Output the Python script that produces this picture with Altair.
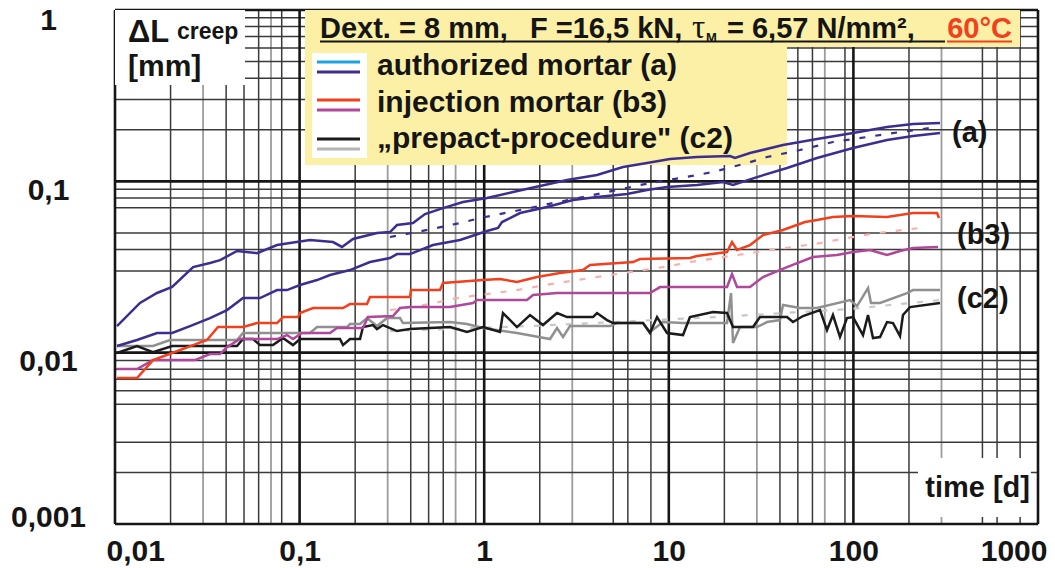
import altair as alt
import pandas as pd

# ---------------- data: time [d] vs. creep displacement ΔL [mm] ----------------
# (a) authorized mortar – upper and lower test curve, dashed mean
a1_t = [0.01025, 0.01366, 0.01689, 0.0204, 0.0265, 0.0327, 0.0371, 0.0458, 0.0588, 0.0755,
        0.0887, 0.1138, 0.1517, 0.1697, 0.1947, 0.2626, 0.3088, 0.337, 0.4115, 0.478,
        0.598, 0.768, 1.036, 1.432, 2.006, 2.809, 4.084, 5.648, 7.618, 10.15,
        14.22, 21.46, 22.84, 27.54, 41.55, 63.5, 99.5, 152.1, 210.3, 294.5]
a1_v = [0.0143, 0.0195, 0.0223, 0.0242, 0.0316, 0.0334, 0.0347, 0.0392, 0.0381, 0.0425,
        0.0436, 0.0454, 0.0442, 0.0414, 0.0461, 0.0499, 0.0506, 0.0556, 0.0571, 0.0644,
        0.0698, 0.0757, 0.0799, 0.0866, 0.0939, 0.1018, 0.1088, 0.1212, 0.1279, 0.1350,
        0.1386, 0.1405, 0.1368, 0.1463, 0.1628, 0.1765, 0.1914, 0.2075, 0.2161, 0.2190]

a2_t = [0.01025, 0.01316, 0.01689, 0.0204, 0.02549, 0.0327, 0.04045, 0.04936, 0.06103, 0.0755,
        0.08545, 0.1005, 0.1243, 0.1461, 0.1875, 0.2406, 0.3088, 0.337, 0.3963, 0.528,
        0.7393, 1.036, 1.188, 1.249, 1.563, 2.189, 3.027, 4.084, 5.936, 7.618,
        9.78, 14.22, 19.66, 22.28, 30.05, 43.68, 63.5, 99.5, 152.1, 210.3, 294.5]
a2_v = [0.01093, 0.01185, 0.01302, 0.01302, 0.0143, 0.01592, 0.01773, 0.02083, 0.02083, 0.02319,
        0.02319, 0.02481, 0.02653, 0.02838, 0.03035, 0.0338, 0.03566, 0.03763, 0.03763, 0.04247,
        0.04544, 0.05127, 0.05339, 0.05786, 0.0653, 0.07079, 0.07775, 0.08097, 0.08431, 0.08896,
        0.09262, 0.09515, 0.09906, 0.09515, 0.1059, 0.1196, 0.1368, 0.1564, 0.1742, 0.1838, 0.1914]

am_t = [0.3088, 0.4325, 0.7393, 0.9491, 1.563, 2.359, 3.886, 6.982, 11.50, 17.35,
        26.52, 34.04, 51.38, 77.5, 118.5, 178.8, 260.0]
am_v = [0.04731, 0.05058, 0.0571, 0.06106, 0.068, 0.07467, 0.08318, 0.09515, 0.1045, 0.1133,
        0.1279, 0.1386, 0.1523, 0.1696, 0.1814, 0.194, 0.2047]

# (b3) injection mortar – red, magenta, dashed mean
b1_t = [0.01025, 0.01316, 0.01607, 0.0204, 0.0265, 0.0315, 0.03614, 0.04936, 0.0588, 0.0755,
        0.08131, 0.09802, 0.1005, 0.1182, 0.1718, 0.1875, 0.2318, 0.2406, 0.3963, 0.4013,
        0.5762, 0.598, 0.985, 1.218, 1.505, 1.932, 2.574, 3.429, 3.742, 6.4,
        6.982, 13.02, 14.22, 20.67, 22.0, 23.42, 27.54, 32.38, 41.55, 54.68,
        63.5, 77.5, 99.5, 152.1, 210.3, 283.8, 290.9]
b1_v = [0.00711, 0.00711, 0.00905, 0.00995, 0.01107, 0.01185, 0.01411, 0.01411, 0.01489, 0.01489,
        0.01614, 0.01614, 0.01703, 0.01821, 0.01821, 0.01922, 0.01922, 0.02112, 0.02112, 0.02319,
        0.02319, 0.02549, 0.02653, 0.0269, 0.02583, 0.02762, 0.02915, 0.03035, 0.03246, 0.0338,
        0.03518, 0.03566, 0.03664, 0.03867, 0.04423, 0.03972, 0.04247, 0.04858, 0.05196, 0.05786,
        0.05941, 0.06187, 0.06271, 0.06187, 0.0653, 0.0653, 0.06106]

b2_t = [0.01025, 0.01316, 0.01607, 0.02713, 0.0327, 0.0371, 0.04045, 0.04755, 0.0755, 0.08545,
        0.0921, 0.1030, 0.1461, 0.1594, 0.2205, 0.2347, 0.3206, 0.3499, 0.3963, 0.6527,
        0.8699, 0.9141, 1.706, 1.839, 2.480, 7.911, 8.963, 20.67, 22.0, 23.42,
        27.54, 32.38, 43.68, 60.40, 81.5, 99.5, 123.0, 152.1, 178.8, 210.3, 287.3]
b2_v = [0.00802, 0.00802, 0.00905, 0.00905, 0.00981, 0.00981, 0.01078, 0.01201, 0.01201, 0.01267,
        0.01201, 0.01302, 0.01302, 0.01392, 0.01392, 0.01614, 0.01636, 0.01821, 0.01846, 0.01846,
        0.01949, 0.02028, 0.02028, 0.02169, 0.02228, 0.02228, 0.02415, 0.02415, 0.02876, 0.02415,
        0.02415, 0.02762, 0.0316, 0.03615, 0.03713, 0.03867, 0.03972, 0.03713, 0.03918, 0.04079, 0.04135]

bm_t = [0.3088, 0.4489, 0.7123, 1.505, 2.480, 4.803, 10.15, 13.02, 23.42, 30.05,
        47.07, 65.94, 92.3, 134.2, 185.6, 250.4]
bm_v = [0.01773, 0.01871, 0.02083, 0.02319, 0.02549, 0.02838, 0.03202, 0.0338, 0.03713, 0.03867,
        0.04135, 0.04363, 0.04667, 0.04991, 0.05196, 0.0541]

# (c2) "prepact-procedure" – grey, black, dashed mean
c1_t = [0.01025, 0.01607, 0.01986, 0.0458, 0.04936, 0.1138, 0.1243, 0.1806, 0.1875, 0.2125,
        0.2318, 0.2626, 0.2975, 0.3499, 0.3632, 0.6527, 0.807, 0.985, 1.505, 2.273,
        2.48, 2.673, 2.916, 4.803, 5.241, 7.247, 7.911, 9.303, 11.94, 20.67,
        21.73, 22.28, 24.3, 30.05, 34.04, 40.03, 41.55, 51.38, 63.5, 95.9,
        104.6, 120.0, 124.5, 139.4, 195.2, 210.3, 294.5]
c1_v = [0.01093, 0.01093, 0.01185, 0.01185, 0.01302, 0.01302, 0.01411, 0.01411, 0.01469, 0.01469,
        0.01592, 0.0143, 0.01592, 0.01592, 0.01489, 0.01509, 0.01469, 0.01392, 0.01302, 0.01201,
        0.01392, 0.01234, 0.0143, 0.0143, 0.01489, 0.01489, 0.0132, 0.01509, 0.01489, 0.01489,
        0.02228, 0.01138, 0.01411, 0.01411, 0.01509, 0.0155, 0.01896, 0.01821, 0.01821, 0.02028,
        0.01871, 0.02383, 0.01949, 0.01949, 0.02228, 0.02319, 0.02319]

c2_t = [0.01025, 0.01316, 0.01607, 0.0204, 0.0458, 0.04936, 0.05592, 0.06103, 0.07176, 0.08131,
        0.0921, 0.1005, 0.1655, 0.1718, 0.1875, 0.2125, 0.2205, 0.2498, 0.2626, 0.283,
        0.337, 0.3963, 0.6527, 0.807, 0.985, 1.218, 1.264, 1.505, 1.771, 2.082,
        2.48, 2.809, 3.886, 4.084, 4.627, 4.985, 7.247, 7.911, 8.635, 9.779,
        11.94, 13.02, 17.35, 20.67, 22.28, 28.58, 31.19, 43.68, 47.07, 53.33,
        65.94, 71.94, 77.5, 84.6, 92.3, 99.5, 112.7, 120.0, 127.7, 139.4,
        152.1, 163.9, 178.8, 185.6, 202.6, 294.5]
c2_v = [0.00995, 0.01093, 0.01008, 0.01093, 0.01093, 0.01201, 0.01201, 0.01107, 0.01107, 0.01217,
        0.01107, 0.01201, 0.01201, 0.01107, 0.01201, 0.01201, 0.01411, 0.01449, 0.01373, 0.01449,
        0.01337, 0.01373, 0.01411, 0.0132, 0.01411, 0.0132, 0.01703, 0.01411, 0.01658, 0.01449,
        0.01703, 0.01614, 0.01614, 0.01703, 0.0155, 0.01489, 0.01489, 0.01302, 0.01614, 0.01302,
        0.01267, 0.01614, 0.01726, 0.01703, 0.01411, 0.01411, 0.01614, 0.01614, 0.01509, 0.01636,
        0.01773, 0.01355, 0.01658, 0.01234, 0.01592, 0.01614, 0.01267, 0.01658, 0.01217, 0.01234,
        0.01509, 0.01489, 0.0125, 0.01658, 0.01846, 0.01949]

cm_t = [0.3088, 1.771, 18.25, 95.9, 294.5]
cm_v = [0.01337, 0.0143, 0.01614, 0.01797, 0.02028]

# axis ticks / grid
x_ticks = [0.01, 0.1, 1, 10, 100, 1000]
y_ticks = [0.001, 0.01, 0.1, 1]
x_decades = [0.01, 0.1, 1, 10, 100]
x_missing = [[9], [8], [4, 7, 9], [8], [4, 7, 9]]
x_light = [3, 7]
y_decades = [0.001, 0.01, 0.1]
y_missing = [[4], [2, 6], []]

# ---------------- styling ----------------
FONT = "Liberation Sans"
INK = "#151515"
BLUE = "#3c2e91"
LBLUE = "#1ea3e0"
RED = "#f2401f"
MAG = "#b1479b"
BLACK = "#1b1b1b"
GRAY = "#909090"
PINK = "#f5b0b0"
LGRAY = "#c8c8c8"
YELLOW = "#fcf0a6"

W, H = 923, 514
xscale = alt.Scale(type="log", domain=[0.01, 1000], nice=False)
yscale = alt.Scale(type="log", domain=[0.001, 1], nice=False)
LBL = "replace(format(datum.value, '~g'), '.', ',')"

XAX = alt.Axis(values=x_ticks, labelExpr=LBL, grid=False, ticks=False, tickSize=0, domain=False,
               title=None, labelFlush=True, labelFlushOffset=9, labelPadding=12,
               labelFont=FONT, labelFontSize=30, labelFontWeight="bold", labelColor=INK)
YAX = alt.Axis(values=y_ticks, labelExpr=LBL, grid=False, ticks=False, tickSize=0, domain=False,
               title=None, labelAlign="center", labelBaseline="middle", labelPadding=67,
               labelOffset={"condition": [{"test": "datum.value < 0.005", "value": -7},
                                          {"test": "datum.value > 0.5", "value": 10}],
                            "value": 9},
               labelFont=FONT, labelFontSize=30, labelFontWeight="bold", labelColor=INK)


def X(f):
    return alt.X(f, type="quantitative", scale=xscale, axis=XAX)


def Y(f):
    return alt.Y(f, type="quantitative", scale=yscale, axis=YAX)


def vrules(vals, color, width):
    return alt.Chart(pd.DataFrame({"g": vals})).mark_rule(color=color, strokeWidth=width).encode(x=X("g"))


def hrules(vals, color, width):
    return alt.Chart(pd.DataFrame({"g": vals})).mark_rule(color=color, strokeWidth=width).encode(y=Y("g"))


xm_dark, xm_light = [], []
for d, miss in zip(x_decades, x_missing):
    for m in range(2, 10):
        if m in miss:
            continue
        (xm_light if m in x_light else xm_dark).append(round(d * m, 6))
ym = []
for d, miss in zip(y_decades, y_missing):
    for m in range(2, 10):
        if m not in miss:
            ym.append(round(d * m, 6))

grid = [
    vrules(xm_light, "#9c9c9c", 1.8),
    vrules(xm_dark, "#3a3a3a", 1.5),
    hrules(ym, "#3a3a3a", 1.5),
    vrules(x_ticks, "#161616", 2.6),
    hrules(y_ticks, "#161616", 2.6),
]

ONE = pd.DataFrame({"k": [0]})


def rect(x0, x1, y0, y1, color):
    return alt.Chart(ONE).mark_rect(color=color).encode(
        x=alt.value(x0), x2=alt.value(x1), y=alt.value(y0), y2=alt.value(y1))


def hline(x0, x1, y, color, width):
    return alt.Chart(ONE).mark_rule(color=color, strokeWidth=width).encode(
        x=alt.value(x0), x2=alt.value(x1), y=alt.value(y))


def txt(s, x, y, size, color=INK, align="left", weight="bold", font=FONT):
    return alt.Chart(ONE).mark_text(text=s, fontSize=size, font=font, fontWeight=weight,
                                    color=color, align=align, baseline="alphabetic").encode(
        x=alt.value(x), y=alt.value(y))


boxes = [
    rect(0, 130, 0, 75, "white"),
    rect(190, 905, 0, 37, YELLOW),
    rect(190, 672, 37, 155, YELLOW),
    rect(197, 252, 43, 148, "white"),
    rect(803, 916, 448, 507, "white"),
]


def line(t, v, color, width=2.5, dash=None):
    kw = dict(color=color, strokeWidth=width)
    if dash:
        kw["strokeDash"] = dash
    return alt.Chart(pd.DataFrame({"t": t, "v": v})).mark_line(**kw).encode(x=X("t"), y=Y("v"))


curves = [
    line(cm_t, cm_v, LGRAY, 2.2, [6, 10]),
    line(bm_t, bm_v, PINK, 2.2, [6, 10]),
    line(am_t, am_v, BLUE, 2.2, [6, 10]),
    line(c1_t, c1_v, GRAY),
    line(c2_t, c2_v, BLACK),
    line(b2_t, b2_v, MAG),
    line(b1_t, b1_v, RED),
    line(a2_t, a2_v, BLUE),
    line(a1_t, a1_v, BLUE),
]

labels = [
    # axis caption top-left
    txt("ΔL", 13, 32, 31),
    txt("creep", 62, 29, 23),
    txt("[mm]", 13, 66, 30),
    # header line
    txt("Dext. = 8 mm,", 205, 28, 29),
    txt("F =16,5 kN,", 415, 28, 29),
    txt("τ", 577, 28, 33, weight="normal", font="Liberation Serif"),
    txt("M", 591, 32, 13),
    txt("= 6,57 N/mm²,", 612, 28, 29),
    txt("60°C", 897, 28, 29, color=RED, align="right"),
    hline(205, 830, 31.5, INK, 2),
    hline(832, 897, 31.5, RED, 2),
    # legend
    hline(202, 245, 52, LBLUE, 3),
    hline(202, 245, 62, BLUE, 3),
    hline(202, 245, 90, RED, 3),
    hline(202, 245, 100, MAG, 3),
    hline(202, 245, 129, BLACK, 3),
    hline(202, 245, 139, "#b5b5b5", 3),
    txt("authorized mortar (a)", 262, 65, 30),
    txt("injection mortar (b3)", 262, 101.5, 30),
    txt("„prepact-procedure\" (c2)", 262, 137.5, 30),
    # curve tags
    txt("(a)", 837, 132, 29),
    txt("(b3)", 842, 234, 29),
    txt("(c2)", 842, 298, 29),
    txt("time [d]", 915, 487, 29, align="right"),
]

chart = alt.layer(*grid, *boxes, *curves, *labels).properties(
    width=W, height=H,
    autosize=alt.AutoSizeParams(type="none"),
    padding={"left": 107, "top": 2, "right": 9, "bottom": 44},
).configure_view(stroke="#161616", strokeWidth=3).configure(background="white")

chart.save("out.html", embed_options={"renderer": "svg", "actions": False})
